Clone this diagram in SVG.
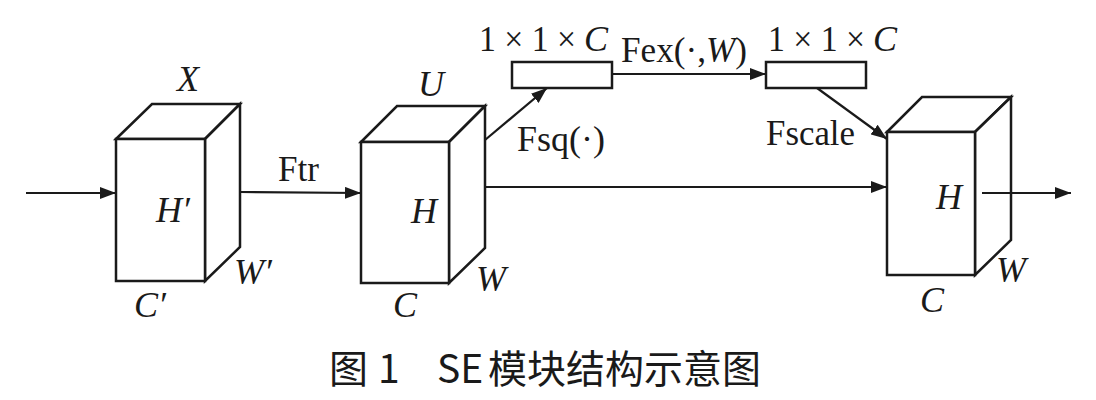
<svg xmlns="http://www.w3.org/2000/svg" width="1096" height="400" viewBox="0 0 1096 400">
<style>
.face{fill:#fff;stroke:#1a1a1a;stroke-width:2.5;stroke-linejoin:miter}
.conn{fill:none;stroke:#1a1a1a;stroke-width:2.2}
.t{font-family:"Liberation Serif","Times New Roman",serif;font-size:36px;fill:#1a1a1a}
.i{font-style:italic}
.cap{font-family:"Noto Sans CJK SC","Noto Sans",sans-serif;font-size:39px;fill:#1a1a1a}
</style>
<defs>
<marker id="ah" markerUnits="userSpaceOnUse" markerWidth="16" markerHeight="12" refX="16" refY="6" orient="auto">
<path d="M0,0 L16,6 L0,12 Z" fill="#1a1a1a"/>
</marker>
</defs>
<rect width="1096" height="400" fill="#fff"/>

<g id="connectors">
<line class="conn" x1="26" y1="193" x2="116" y2="193" marker-end="url(#ah)"/>
<line class="conn" x1="240" y1="192" x2="361" y2="193" marker-end="url(#ah)"/>
<line class="conn" x1="485" y1="140" x2="547" y2="88" marker-end="url(#ah)"/>
<line class="conn" x1="485" y1="187" x2="887" y2="187" marker-end="url(#ah)"/>
<line class="conn" x1="612" y1="74" x2="766" y2="74" marker-end="url(#ah)"/>
<line class="conn" x1="817" y1="88" x2="887" y2="139" marker-end="url(#ah)"/>
<line class="conn" x1="982" y1="193" x2="1071" y2="193" marker-end="url(#ah)"/>
<text class="t" x="278" y="181" textLength="41" lengthAdjust="spacingAndGlyphs">Ftr</text>
<text class="t" x="517" y="151" textLength="88" lengthAdjust="spacingAndGlyphs">Fsq(·)</text>
<text class="t" x="621" y="62" textLength="126" lengthAdjust="spacingAndGlyphs">Fex(·,<tspan class="i">W</tspan>)</text>
<text class="t" x="766" y="145" textLength="89" lengthAdjust="spacingAndGlyphs">Fscale</text>
</g>

<g id="cubeX">
<path class="face" d="M116,139 L152,104 L240,104 L205,139 Z"/>
<path class="face" d="M205,139 L240,104 L240,247 L205,281 Z"/>
<rect class="face" x="116" y="139" width="89" height="142"/>
<text class="t i" x="177" y="91">X</text>
<text class="t i" x="156" y="222">H′</text>
<text class="t i" x="234" y="284">W′</text>
<text class="t i" x="134" y="317">C′</text>
</g>

<g id="cubeU">
<path class="face" d="M361,142 L397,106 L485,106 L449,142 Z"/>
<path class="face" d="M449,142 L485,106 L485,248 L449,283 Z"/>
<rect class="face" x="361" y="142" width="88" height="141"/>
<text class="t i" x="418" y="96">U</text>
<text class="t i" x="411" y="223">H</text>
<text class="t i" x="476" y="291">W</text>
<text class="t i" x="393" y="317">C</text>
</g>

<g id="vecSq">
<rect class="face" x="512" y="62" width="100" height="26"/>
<text class="t" x="479" y="51" textLength="97" lengthAdjust="spacingAndGlyphs">1 × 1 ×</text>
<text class="t i" x="584" y="51">C</text>
</g>

<g id="vecEx">
<rect class="face" x="766" y="62" width="100" height="26"/>
<text class="t" x="768" y="51" textLength="97" lengthAdjust="spacingAndGlyphs">1 × 1 ×</text>
<text class="t i" x="873" y="51">C</text>
</g>

<g id="cubeOut">
<path class="face" d="M887,132 L922,97 L1011,97 L975,132 Z"/>
<path class="face" d="M975,132 L1011,97 L1011,240 L975,275 Z"/>
<rect class="face" x="887" y="132" width="88" height="143"/>
<line class="conn" x1="982" y1="193" x2="1058" y2="193"/>
<text class="t i" x="936" y="209">H</text>
<text class="t i" x="996" y="282">W</text>
<text class="t i" x="920" y="312">C</text>
</g>

<g id="caption">
<text class="cap" y="383"><tspan x="329">图</tspan><tspan x="378">1</tspan><tspan x="437">SE</tspan><tspan x="488">模块结构示意图</tspan></text>
</g>
</svg>
